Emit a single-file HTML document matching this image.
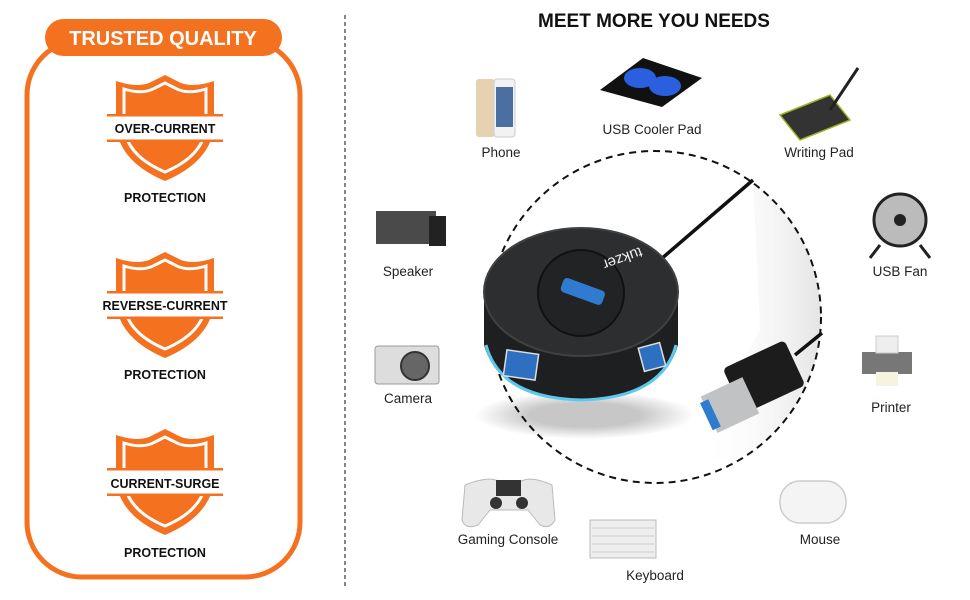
<!DOCTYPE html>
<html><head><meta charset="utf-8"><style>
html,body{margin:0;padding:0;background:#fff;}
svg{display:block;}
text{font-family:"Liberation Sans",sans-serif;}
</style></head><body>
<svg width="970" height="600" viewBox="0 0 970 600" xmlns="http://www.w3.org/2000/svg">
<defs>
<g id="shield">
  <path d="M-49,4 Q-25,12 -12,4 L0,-2 L12,4 Q25,12 49,4 L49,50 Q45,85 0,104 Q-45,85 -49,50 Z" fill="#f47120"/>
  <path d="M-41,12 Q-22,18 -10,11 L0,6 L10,11 Q22,18 41,12 L41,50 Q38,79 0,95 Q-38,79 -41,50 Z" fill="none" stroke="#fff" stroke-width="3"/>
  <rect x="-60" y="38" width="120" height="26" fill="#fff"/>
  <rect x="-58" y="37" width="116" height="2.5" fill="#f47120"/>
  <rect x="-58" y="62.5" width="116" height="2.5" fill="#f47120"/>
</g>
<radialGradient id="sh" cx="0.5" cy="0.5" r="0.5"><stop offset="0.5" stop-color="#000" stop-opacity="0.22"/><stop offset="1" stop-color="#000" stop-opacity="0"/></radialGradient>
<linearGradient id="bg" x1="0" y1="0" x2="1" y2="0"><stop offset="0" stop-color="#fff" stop-opacity="0"/><stop offset="1" stop-color="#d8d8d8"/></linearGradient>
<clipPath id="cc"><circle cx="655" cy="317" r="166"/></clipPath>
</defs>
<rect x="27" y="40" width="273" height="537" rx="55" fill="none" stroke="#f47120" stroke-width="5"/>
<rect x="45" y="19" width="237" height="37" rx="18.5" fill="#f47120"/>
<text x="163" y="45" font-size="20" font-weight="bold" fill="#fff" text-anchor="middle">TRUSTED QUALITY</text>
<use href="#shield" x="165" y="77"/>
<use href="#shield" x="165" y="254"/>
<use href="#shield" x="165" y="431"/>
<g font-size="12.5" font-weight="bold" fill="#111" text-anchor="middle">
<text x="165" y="133">OVER-CURRENT</text>
<text x="165" y="310">REVERSE-CURRENT</text>
<text x="165" y="488">CURRENT-SURGE</text>
<text x="165" y="202">PROTECTION</text>
<text x="165" y="379">PROTECTION</text>
<text x="165" y="557">PROTECTION</text>
</g>
<line x1="345" y1="15" x2="345" y2="587" stroke="#333" stroke-width="1.2" stroke-dasharray="4,3"/>
<text x="654" y="27" font-size="19" font-weight="bold" fill="#111" text-anchor="middle">MEET MORE YOU NEEDS</text>
<g clip-path="url(#cc)">
<path d="M753,180 L830,180 L830,460 L700,460 L720,400 L760,330 Z" fill="url(#bg)" opacity="0.8"/>
</g>
<circle cx="655" cy="317" r="166" fill="none" stroke="#111" stroke-width="2" stroke-dasharray="7,5"/>
<line x1="660" y1="260" x2="753" y2="180" stroke="#111" stroke-width="3.5"/>
<line x1="795" y1="355" x2="822" y2="333" stroke="#111" stroke-width="3.5"/>
<ellipse cx="585" cy="415" rx="110" ry="24" fill="url(#sh)"/>
<path d="M484,292 L484,345 Q500,400 581,401 Q662,400 678,345 L678,292 Z" fill="#1e1f21"/>
<path d="M486,345 Q500,398 581,400 Q662,398 676,345" fill="none" stroke="#5cc8f0" stroke-width="3"/>
<rect x="505" y="352" width="32" height="26" fill="#2d6fc0" stroke="#ddd" stroke-width="1.5" transform="rotate(8 521 365)"/>
<rect x="641" y="345" width="22" height="24" fill="#2d6fc0" stroke="#ddd" stroke-width="1.5" transform="rotate(-15 652 357)"/>
<ellipse cx="581" cy="292" rx="97" ry="64" fill="#2c2e30"/>
<ellipse cx="581" cy="292" rx="97" ry="64" fill="none" stroke="#3e4042" stroke-width="2"/>
<circle cx="581" cy="293" r="43" fill="#222325" stroke="#111" stroke-width="2"/>
<rect x="561" y="284" width="44" height="15" rx="4" fill="#2e7bd0" transform="rotate(20 583 291)"/>
<text x="600" y="246" font-size="15" fill="#eee" transform="rotate(160 620 250)">tukzer</text>
<rect x="730" y="352" width="68" height="50" rx="5" fill="#1c1c1c" transform="rotate(-25 764 377)"/>
<rect x="707" y="385" width="46" height="40" fill="#c0c2c4" transform="rotate(-25 730 405)"/>
<rect x="706" y="400" width="9" height="30" fill="#2e7bd0" transform="rotate(-25 710 415)"/>
<g font-size="13.5" fill="#222" text-anchor="middle">
<text x="501" y="157">Phone</text>
<text x="652" y="134">USB Cooler Pad</text>
<text x="819" y="157">Writing Pad</text>
<text x="408" y="276">Speaker</text>
<text x="900" y="276">USB Fan</text>
<text x="408" y="403">Camera</text>
<text x="891" y="412">Printer</text>
<text x="508" y="544">Gaming Console</text>
<text x="655" y="580">Keyboard</text>
<text x="820" y="544">Mouse</text>
</g>
<rect x="476" y="79" width="19" height="58" rx="3" fill="#e5d2b0"/>
<rect x="494" y="79" width="21" height="58" rx="3" fill="#f2f2f2" stroke="#ccc"/>
<rect x="496" y="87" width="17" height="40" fill="#4a6fa0"/>
<path d="M600,90 L643,58 L702,78 L662,107 Z" fill="#111"/>
<ellipse cx="640" cy="78" rx="16" ry="10" fill="#2a5fe0"/><ellipse cx="665" cy="86" rx="16" ry="10" fill="#2a5fe0"/>
<path d="M780,115 L830,95 L850,120 L800,140 Z" fill="#333" stroke="#a0b020" stroke-width="1.5"/>
<line x1="830" y1="110" x2="858" y2="68" stroke="#222" stroke-width="3"/>
<rect x="376" y="211" width="60" height="33" fill="#4a4a4a"/>
<rect x="429" y="216" width="17" height="30" fill="#222"/>
<circle cx="900" cy="220" r="26" fill="#bbb" stroke="#222" stroke-width="3"/>
<circle cx="900" cy="220" r="6" fill="#222"/>
<path d="M880,245 L870,258 M920,245 L930,258" stroke="#222" stroke-width="3"/>
<rect x="375" y="346" width="64" height="38" rx="3" fill="#ddd" stroke="#999"/>
<circle cx="415" cy="366" r="14" fill="#666" stroke="#333" stroke-width="2"/>
<rect x="862" y="352" width="50" height="22" fill="#777"/>
<rect x="876" y="336" width="22" height="17" fill="#eee" stroke="#ccc"/>
<rect x="876" y="372" width="22" height="14" fill="#f4f4e0"/>
<path d="M465,485 Q490,475 500,482 L520,482 Q530,475 552,485 L555,520 Q550,530 540,525 L528,510 L490,510 L478,525 Q465,530 462,520 Z" fill="#e8e8e8" stroke="#bbb"/>
<rect x="496" y="480" width="25" height="16" fill="#333"/>
<circle cx="496" cy="503" r="6" fill="#333"/><circle cx="522" cy="503" r="6" fill="#333"/>
<rect x="590" y="520" width="66" height="38" fill="#eee" stroke="#bbb"/>
<g stroke="#ccc" stroke-width="1"><line x1="592" y1="528" x2="654" y2="528"/><line x1="592" y1="536" x2="654" y2="536"/><line x1="592" y1="544" x2="654" y2="544"/><line x1="592" y1="552" x2="654" y2="552"/></g>
<rect x="780" y="481" width="66" height="42" rx="20" fill="#f4f4f4" stroke="#ccc" stroke-width="1.5"/>
</svg>
</body></html>
